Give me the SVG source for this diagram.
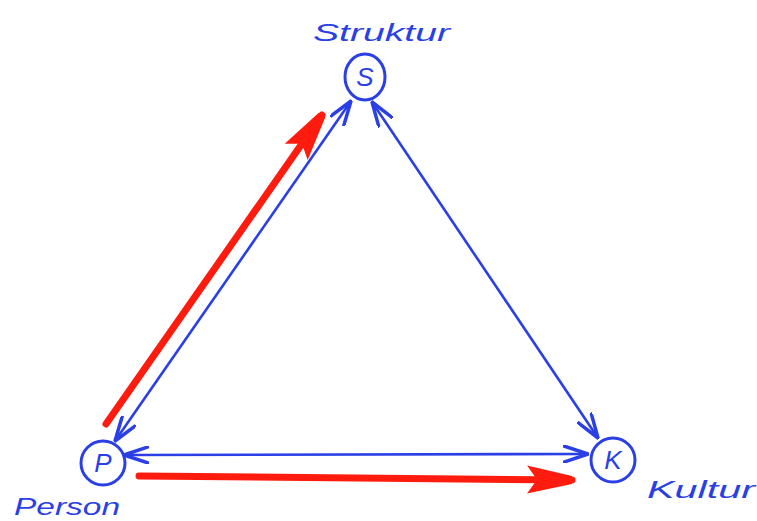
<svg xmlns="http://www.w3.org/2000/svg" width="757" height="521" viewBox="0 0 757 521">
<style>
.node{fill:none;stroke:#2b3fe6;stroke-width:3}
.lbl{font-family:"Liberation Sans",Arial,sans-serif;font-style:italic;fill:#2b3fe6}
.blue{stroke:#2b3fe6;stroke-width:2.6;fill:none}
.red{stroke:#ff1c0e;stroke-width:7;fill:none;stroke-linecap:round}
</style>
<defs>
<marker id="bh" viewBox="0 0 26 18" refX="25" refY="9" markerWidth="26" markerHeight="18" markerUnits="userSpaceOnUse" orient="auto-start-reverse">
<path d="M1,1 L25,9 L1,17" fill="none" stroke="#2b3fe6" stroke-width="3.5" stroke-linecap="round" stroke-linejoin="round"/>
</marker>
<marker id="rh" viewBox="0 0 46 32" refX="45" refY="16" markerWidth="46" markerHeight="32" markerUnits="userSpaceOnUse" orient="auto">
<path d="M0,2 L45,12 L45,20 L0,30 L10,16 z" fill="#ff1c0e"/>
</marker>
</defs>
<g id="connectors">
<line class="blue" x1="351" y1="101" x2="115" y2="441" marker-start="url(#bh)" marker-end="url(#bh)"/>
<line class="blue" x1="372" y1="102" x2="598" y2="438" marker-start="url(#bh)" marker-end="url(#bh)"/>
<line class="blue" x1="124" y1="455" x2="588" y2="454" marker-start="url(#bh)" marker-end="url(#bh)"/>
<line class="red" x1="106" y1="424" x2="322" y2="115" marker-end="url(#rh)"/>
<line class="red" x1="139" y1="476" x2="572" y2="480" marker-end="url(#rh)"/>
</g>
<g id="node-S">
<ellipse class="node" cx="365" cy="77" rx="20" ry="23"/>
<text class="lbl" x="365" y="86" font-size="26" text-anchor="middle">S</text>
<text class="lbl" x="313" y="41" font-size="24" textLength="137" lengthAdjust="spacingAndGlyphs">Struktur</text>
</g>
<g id="node-P">
<circle class="node" cx="103" cy="463" r="22"/>
<text class="lbl" x="103" y="472" font-size="26" text-anchor="middle">P</text>
<text class="lbl" x="14" y="515" font-size="23" textLength="106" lengthAdjust="spacingAndGlyphs">Person</text>
</g>
<g id="node-K">
<circle class="node" cx="613" cy="460" r="22"/>
<text class="lbl" x="613" y="469" font-size="26" text-anchor="middle">K</text>
<text class="lbl" x="647" y="498" font-size="24" textLength="108" lengthAdjust="spacingAndGlyphs">Kultur</text>
</g>
</svg>
